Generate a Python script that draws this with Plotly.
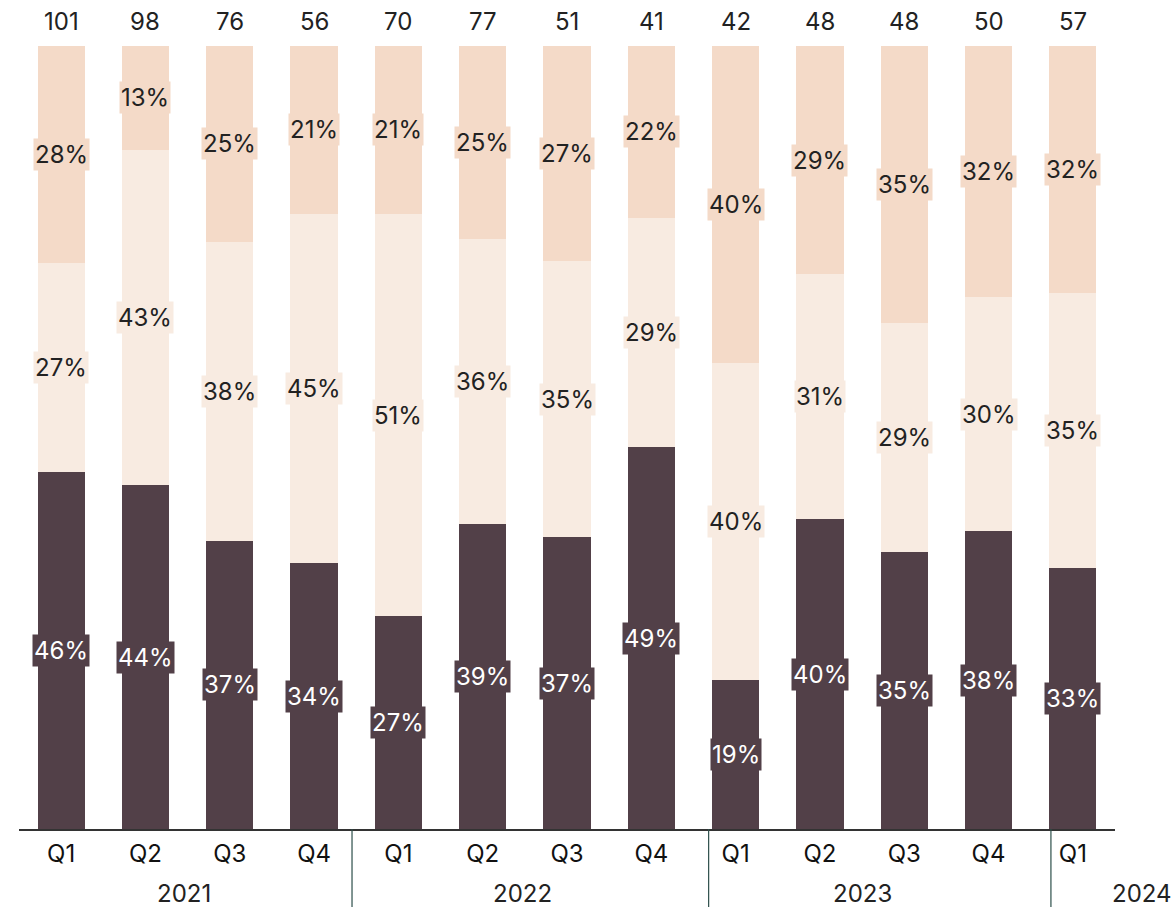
import plotly.graph_objects as go

quarters = ["Q1", "Q2", "Q3", "Q4", "Q1", "Q2", "Q3", "Q4", "Q1", "Q2", "Q3", "Q4", "Q1"]
years = ["2021", "2022", "2023", "2024"]
year_label_pos = [1.46, 5.47, 9.5, 12.82]
divider_pos = [3.45, 7.68, 11.74]

totals = [101, 98, 76, 56, 70, 77, 51, 41, 42, 48, 48, 50, 57]
bottom_counts = [46, 43, 28, 19, 19, 30, 19, 20, 8, 19, 17, 19, 19]
middle_counts = [27, 42, 29, 25, 36, 28, 18, 12, 17, 15, 14, 15, 20]
top_counts = [28, 13, 19, 12, 15, 19, 14, 9, 17, 14, 17, 16, 18]

bottom_pct = [46, 44, 37, 34, 27, 39, 37, 49, 19, 40, 35, 38, 33]
middle_pct = [27, 43, 38, 45, 51, 36, 35, 29, 40, 31, 29, 30, 35]
top_pct = [28, 13, 25, 21, 21, 25, 27, 22, 40, 29, 35, 32, 32]

DARK = "#524048"
LIGHT = "#F8EBE1"
PEACH = "#F4DAC8"
FONT = "Inter"
FS = 24

x = list(range(len(quarters)))
x_lo, x_hi = -0.5, 12.5

fig = go.Figure()
series = [
    (bottom_counts, bottom_pct, DARK, "white"),
    (middle_counts, middle_pct, LIGHT, "#222222"),
    (top_counts, top_pct, PEACH, "#222222"),
]
for counts, pct, color, tcolor in series:
    fig.add_trace(go.Bar(x=x, y=counts, marker=dict(color=color, line=dict(width=0)),
                         hoverinfo="skip", showlegend=False))

annotations = []
cum = [0] * len(x)
for counts, pct, color, tcolor in series:
    for i in x:
        mid = (cum[i] + counts[i] / 2) / totals[i] * 100
        annotations.append(dict(x=i, y=mid, xref="x", yref="y", text=f"{pct[i]}%",
                                showarrow=False, bgcolor=color, borderpad=1,
                                xanchor="center", yanchor="middle",
                                font=dict(family=FONT, size=FS, color=tcolor)))
        cum[i] += counts[i]

for i in x:
    annotations.append(dict(x=i, y=1.031, xref="x", yref="paper", text=str(totals[i]),
                            showarrow=False, xanchor="center", yanchor="middle",
                            font=dict(family=FONT, size=FS, color="#222222")))

for yr, pos in zip(years, year_label_pos):
    annotations.append(dict(x=(pos - x_lo) / (x_hi - x_lo), y=-0.082, xref="paper", yref="paper",
                            text=yr, showarrow=False, xanchor="center", yanchor="middle",
                            font=dict(family=FONT, size=FS, color="#222222")))

shapes = []
for d in divider_pos:
    shapes.append(dict(type="line", xref="x", yref="paper", x0=d, x1=d, y0=0, y1=-0.11,
                       line=dict(color="#2d4f4a", width=1.2)))

fig.update_layout(
    barmode="stack",
    barnorm="percent",
    bargap=0.44,
    width=1176, height=907,
    margin=dict(l=19, r=61, t=46, b=78),
    plot_bgcolor="white", paper_bgcolor="white",
    annotations=annotations,
    shapes=shapes,
    xaxis=dict(tickvals=x, ticktext=quarters, range=[x_lo, x_hi], showline=True,
               linecolor="#333333", linewidth=1.5, ticks="", showgrid=False, zeroline=False,
               ticklabelstandoff=2,
               tickfont=dict(family=FONT, size=FS, color="#111111")),
    yaxis=dict(range=[0, 100], visible=False, showgrid=False, zeroline=False),
)

fig.write_html("out.html")
